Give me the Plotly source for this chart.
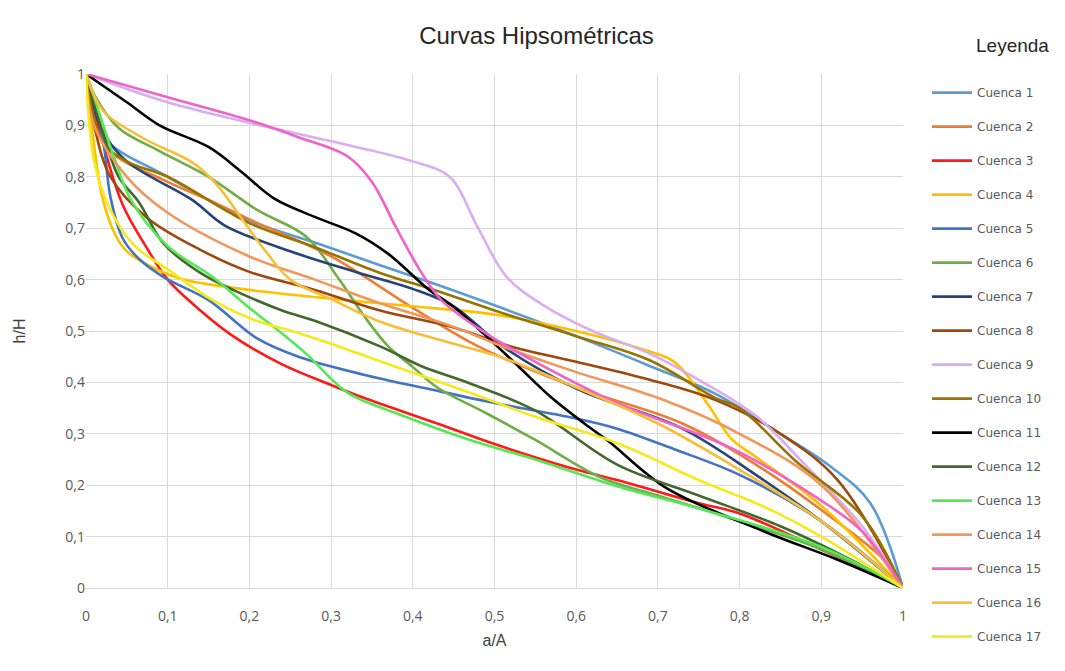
import plotly.graph_objects as go

names = [f"Cuenca {i}" for i in range(1, 18)]
colors = ["#5B9BD5", "#ED7D31", "#FF1A1A", "#FFC000", "#4472C4", "#70AD47", "#264478",
          "#9E480E", "#D9AEF0", "#997300", "#000000", "#43682B", "#55E855", "#F1975A",
          "#F062C8", "#F7BE3A", "#F5EA1E"]

c1_x = [0, 0.02, 0.1, 0.2, 0.28, 0.36, 0.43, 0.5, 0.6, 0.69, 0.77, 0.85, 0.91, 0.96, 1]
c1_y = [1, 0.88, 0.8, 0.715, 0.672, 0.628, 0.59, 0.55, 0.49, 0.432, 0.378, 0.3, 0.238, 0.165, 0]
c2_x = [0, 0.01, 0.03, 0.1, 0.15, 0.21, 0.3, 0.4, 0.48, 0.6, 0.73, 0.83, 0.91, 0.98, 1]
c2_y = [1, 0.92, 0.85, 0.79, 0.755, 0.71, 0.645, 0.545, 0.47, 0.39, 0.32, 0.23, 0.14, 0.05, 0]
c3_x = [0, 0.02, 0.045, 0.075, 0.1, 0.14, 0.18, 0.24, 0.3, 0.34, 0.43, 0.5, 0.59, 0.65, 0.75, 0.8, 0.9, 1]
c3_y = [1, 0.87, 0.745, 0.66, 0.6, 0.54, 0.49, 0.435, 0.395, 0.37, 0.32, 0.28, 0.235, 0.21, 0.165, 0.145, 0.075, 0]
c4_x = [0, 0.01, 0.02, 0.035, 0.05, 0.08, 0.12, 0.2, 0.3, 0.4, 0.5, 0.6, 0.68, 0.72, 0.76, 0.79, 0.82, 0.9, 1]
c4_y = [1, 0.86, 0.76, 0.69, 0.655, 0.625, 0.6, 0.58, 0.563, 0.548, 0.532, 0.5, 0.465, 0.44, 0.36, 0.29, 0.255, 0.16, 0]
c5_x = [0, 0.02, 0.03, 0.045, 0.065, 0.095, 0.15, 0.21, 0.26, 0.34, 0.42, 0.5, 0.59, 0.65, 0.72, 0.8, 0.9, 1]
c5_y = [1, 0.88, 0.76, 0.68, 0.64, 0.605, 0.56, 0.485, 0.45, 0.415, 0.387, 0.36, 0.333, 0.31, 0.27, 0.22, 0.13, 0]
c6_x = [0, 0.01, 0.04, 0.09, 0.15, 0.21, 0.27, 0.31, 0.34, 0.37, 0.4, 0.43, 0.49, 0.55, 0.63, 0.7, 0.8, 0.9, 1]
c6_y = [1, 0.96, 0.895, 0.85, 0.8, 0.735, 0.683, 0.6, 0.53, 0.47, 0.43, 0.39, 0.34, 0.288, 0.215, 0.18, 0.13, 0.075, 0]
c7_x = [0, 0.02, 0.05, 0.13, 0.17, 0.25, 0.33, 0.4, 0.45, 0.51, 0.6, 0.73, 0.82, 0.9, 1]
c7_y = [1, 0.89, 0.83, 0.755, 0.705, 0.655, 0.615, 0.582, 0.548, 0.47, 0.388, 0.31, 0.22, 0.13, 0]
c8_x = [0, 0.01, 0.03, 0.075, 0.14, 0.2, 0.28, 0.36, 0.45, 0.52, 0.6, 0.69, 0.77, 0.85, 0.92, 1]
c8_y = [1, 0.9, 0.8, 0.72, 0.658, 0.615, 0.58, 0.54, 0.507, 0.47, 0.44, 0.405, 0.366, 0.3, 0.21, 0]
c9_x = [0, 0.1, 0.2, 0.32, 0.4, 0.445, 0.48, 0.515, 0.56, 0.62, 0.69, 0.75, 0.82, 0.88, 0.95, 1]
c9_y = [1, 0.945, 0.905, 0.862, 0.83, 0.8, 0.7, 0.605, 0.55, 0.5, 0.456, 0.405, 0.335, 0.24, 0.12, 0]
c10_x = [0, 0.02, 0.05, 0.1, 0.2, 0.28, 0.36, 0.43, 0.5, 0.6, 0.69, 0.77, 0.8, 0.87, 0.95, 1]
c10_y = [1, 0.87, 0.83, 0.8, 0.71, 0.663, 0.613, 0.578, 0.54, 0.49, 0.443, 0.37, 0.35, 0.245, 0.14, 0]
c11_x = [0, 0.05, 0.09, 0.15, 0.19, 0.23, 0.28, 0.33, 0.37, 0.42, 0.45, 0.49, 0.53, 0.57, 0.61, 0.64, 0.71, 0.83, 0.92, 1]
c11_y = [1, 0.945, 0.9, 0.858, 0.81, 0.758, 0.722, 0.69, 0.65, 0.58, 0.547, 0.49, 0.43, 0.37, 0.32, 0.285, 0.195, 0.11, 0.055, 0]
c12_x = [0, 0.02, 0.04, 0.065, 0.095, 0.14, 0.18, 0.24, 0.28, 0.36, 0.41, 0.47, 0.55, 0.65, 0.75, 0.85, 0.93, 1]
c12_y = [1, 0.89, 0.8, 0.75, 0.67, 0.613, 0.58, 0.54, 0.52, 0.47, 0.432, 0.398, 0.345, 0.24, 0.18, 0.12, 0.06, 0]
c13_x = [0, 0.005, 0.017, 0.035, 0.055, 0.1, 0.155, 0.2, 0.24, 0.27, 0.32, 0.38, 0.47, 0.55, 0.65, 0.75, 0.9, 1]
c13_y = [1, 0.98, 0.92, 0.835, 0.755, 0.665, 0.605, 0.545, 0.495, 0.455, 0.38, 0.34, 0.288, 0.25, 0.198, 0.155, 0.08, 0]
c14_x = [0, 0.01, 0.05, 0.1, 0.2, 0.28, 0.36, 0.45, 0.51, 0.6, 0.7, 0.8, 0.9, 1]
c14_y = [1, 0.9, 0.8, 0.73, 0.645, 0.6, 0.554, 0.508, 0.47, 0.42, 0.37, 0.3, 0.2, 0]
c15_x = [0, 0.1, 0.2, 0.26, 0.32, 0.35, 0.38, 0.41, 0.435, 0.49, 0.55, 0.65, 0.79, 0.9, 0.95, 1]
c15_y = [1, 0.955, 0.91, 0.877, 0.84, 0.79, 0.7, 0.615, 0.56, 0.495, 0.44, 0.36, 0.272, 0.17, 0.11, 0]
c16_x = [0, 0.02, 0.07, 0.13, 0.16, 0.19, 0.22, 0.25, 0.3, 0.36, 0.45, 0.51, 0.6, 0.7, 0.8, 0.9, 1]
c16_y = [1, 0.93, 0.875, 0.828, 0.785, 0.72, 0.655, 0.6, 0.562, 0.518, 0.475, 0.448, 0.39, 0.32, 0.23, 0.13, 0]
c17_x = [0, 0.01, 0.03, 0.06, 0.1, 0.155, 0.2, 0.26, 0.3, 0.38, 0.47, 0.55, 0.65, 0.75, 0.83, 0.9, 1]
c17_y = [1, 0.83, 0.735, 0.665, 0.62, 0.56, 0.525, 0.496, 0.475, 0.43, 0.38, 0.333, 0.282, 0.21, 0.158, 0.1, 0]

xs = [c1_x, c2_x, c3_x, c4_x, c5_x, c6_x, c7_x, c8_x, c9_x, c10_x, c11_x, c12_x, c13_x, c14_x, c15_x, c16_x, c17_x]
ys = [c1_y, c2_y, c3_y, c4_y, c5_y, c6_y, c7_y, c8_y, c9_y, c10_y, c11_y, c12_y, c13_y, c14_y, c15_y, c16_y, c17_y]

x_ticks = [0, 0.1, 0.2, 0.3, 0.4, 0.5, 0.6, 0.7, 0.8, 0.9, 1]
y_ticks = [0, 0.1, 0.2, 0.3, 0.4, 0.5, 0.6, 0.7, 0.8, 0.9, 1]

fig = go.Figure()
for i in range(17):
    fig.add_trace(go.Scatter(
        x=xs[i], y=ys[i], name=names[i], mode="lines",
        line=dict(color=colors[i], width=2.6, shape="spline", smoothing=1.0),
        legendgroup=names[i],
    ))

fig.add_annotation(text="Leyenda", xref="paper", yref="paper", x=1.1346, y=1.0545,
                   xanchor="center", yanchor="middle", showarrow=False,
                   font=dict(family="Liberation Sans, Arial", size=19, color="#262626"))

fig.update_layout(
    width=1057, height=663,
    separators=", ",
    paper_bgcolor="white", plot_bgcolor="white",
    margin=dict(l=78, r=162, t=66, b=83, autoexpand=False),
    title=dict(text="Curvas Hipsométricas", x=0.5, xanchor="center", y=0.959, yanchor="middle",
               font=dict(family="Liberation Sans, Arial", size=24, color="#262626")),
    font=dict(family="Open Sans", color="#595959"),
    xaxis=dict(range=[0, 1], tickvals=x_ticks, tickformat=".1~f", showgrid=True, gridcolor="#D9D9D9",
               gridwidth=1, zeroline=False, showline=True, linecolor="#D9D9D9", ticks="",
               ticklabelstandoff=15,
               tickfont=dict(size=14, color="#595959"),
               title=dict(text="a/A", font=dict(family="Liberation Sans, Arial", size=16, color="#404040"), standoff=11)),
    yaxis=dict(range=[0, 1], tickvals=y_ticks, tickformat=".1~f", showgrid=True, gridcolor="#D9D9D9",
               gridwidth=1, zeroline=False, showline=False, ticks="",
               tickfont=dict(size=14, color="#595959"),
               title=dict(text="h/H", font=dict(family="Liberation Sans, Arial", size=16, color="#404040"), standoff=35)),
    legend=dict(
        x=1.0294, xanchor="left", y=0.992, yanchor="top",
        font=dict(family="DejaVu Sans", size=12, color="#595959"),
        tracegroupgap=15, itemwidth=40, bgcolor="rgba(0,0,0,0)",
        maxheight=760,
    ),
)

fig.write_html("out.html")
